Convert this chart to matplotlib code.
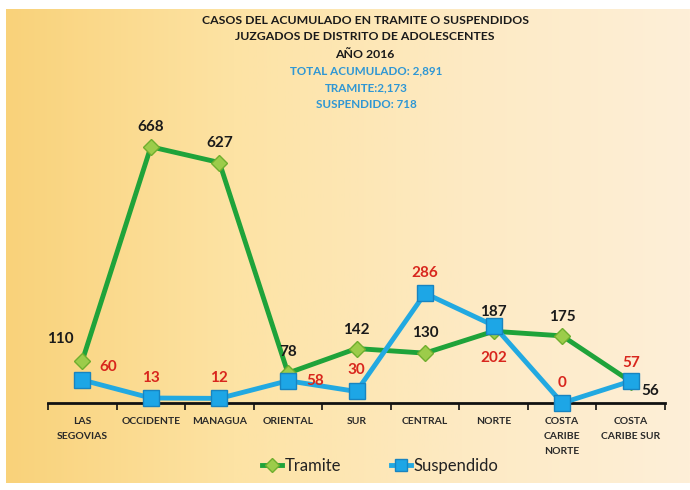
import numpy as np
import matplotlib
matplotlib.use("Agg")
import matplotlib.pyplot as plt
from matplotlib.colors import LinearSegmentedColormap
from matplotlib.lines import Line2D

plt.rcParams['font.family'] = ['Lato', 'DejaVu Sans']

regiones = ["LAS\nSEGOVIAS", "OCCIDENTE", "MANAGUA", "ORIENTAL", "SUR",
            "CENTRAL", "NORTE", "COSTA\nCARIBE\nNORTE", "COSTA\nCARIBE SUR"]
tramite = [110, 668, 627, 78, 142, 130, 187, 175, 56]
suspendido = [60, 13, 12, 58, 30, 286, 202, 0, 57]

# label offsets in pixels (dx, dy)
off_tram = [(-22, 22), (0, 20), (0, 20), (0, 21), (0, 19), (0, 20), (0, 19), (0, 19), (19, -9)]
off_susp = [(26, 13), (0, 20), (0, 20), (27, 0), (0, 21), (0, 20), (0, -32), (0, 20), (0, 18)]

fig = plt.figure(figsize=(6.9, 4.9), dpi=100)

# gradient background
bg = fig.add_axes([6/690, 7/490, 684/690, 474/490], zorder=0)
cmap = LinearSegmentedColormap.from_list("bg", ["#f9d27a", "#fde3a4", "#fdeac3", "#feefd8"])
bg.imshow(np.linspace(0, 1, 256).reshape(1, -1), aspect="auto", cmap=cmap, extent=[0, 1, 0, 1])
bg.axis("off")

ax = fig.add_axes([48/690, 87/490, 617/690, 303/490], zorder=1)
ax.patch.set_alpha(0)
x = np.arange(len(regiones))

green = "#1fa33a"
blue = "#22a9e1"
ax.plot(x, tramite, color=green, lw=3.5, marker="D", ms=8, mfc="#9ccc4a",
        mec="#6fae2e", mew=1, clip_on=False, zorder=3)
ax.plot(x, suspendido, color=blue, lw=3.5, marker="s", ms=11, mfc="#1da6e6",
        mec="#1884c0", mew=1, clip_on=False, zorder=4)

for i in range(len(x)):
    ax.annotate(str(tramite[i]), (x[i], tramite[i]), xytext=off_tram[i],
                textcoords="offset pixels", ha="center", va="center",
                fontsize=11, fontweight="bold", color="#1a1a1a", zorder=5)
    ax.annotate(str(suspendido[i]), (x[i], suspendido[i]), xytext=off_susp[i],
                textcoords="offset pixels", ha="center", va="center",
                fontsize=11, fontweight="bold", color="#d8261d", zorder=5)

ax.set_xlim(-0.5, len(regiones) - 0.5)
ax.set_ylim(0, 790)
for s in ["top", "right", "left"]:
    ax.spines[s].set_visible(False)
ax.spines["bottom"].set_linewidth(2)
ax.spines["bottom"].set_color("#111111")
ax.set_yticks([])
ax.set_xticks(np.arange(-0.5, len(regiones)), minor=False)
ax.set_xticklabels([])
ax.tick_params(axis="x", length=5, width=1.2, color="#111111", direction="out")
ax.set_xticks(x, minor=True)
ax.set_xticklabels(regiones, minor=True, fontsize=7.5, fontweight="bold",
                   color="#2a2a2a", linespacing=1.9)
ax.tick_params(axis="x", which="minor", length=0, pad=10)
for lbl in ax.get_xticklabels(minor=True):
    lbl.set_va("top")

# titles
titulos = ["CASOS DEL ACUMULADO EN TRAMITE O SUSPENDIDOS",
           "JUZGADOS DE DISTRITO DE ADOLESCENTES",
           "AÑO 2016"]
subtitulos = ["TOTAL ACUMULADO: 2,891", "TRAMITE:2,173", "SUSPENDIDO: 718"]
ys = [20, 37, 54]
for t, yy in zip(titulos, ys):
    fig.text(365/690, 1 - yy/490, t, ha="center", va="center", fontsize=8.8,
             fontweight="bold", color="#1a1a1a")
for t, yy in zip(subtitulos, [71, 88, 104]):
    fig.text(366/690, 1 - yy/490, t, ha="center", va="center", fontsize=8.4,
             fontweight="bold", color="#2f97d4")

handles = [Line2D([], [], color=green, lw=3.5, marker="D", ms=7, mfc="#9ccc4a", mec="#6fae2e"),
           Line2D([], [], color=blue, lw=3.5, marker="s", ms=9, mfc="#1da6e6", mec="#1884c0")]
fig.legend(handles, ["Tramite", "Suspendido"], loc="center", bbox_to_anchor=(380/690, 1 - 466/490),
           ncol=2, frameon=False, fontsize=12, handlelength=1.2, handletextpad=0.15,
           columnspacing=3.0, labelcolor="#222222")

fig.savefig("out.png", dpi=100)
